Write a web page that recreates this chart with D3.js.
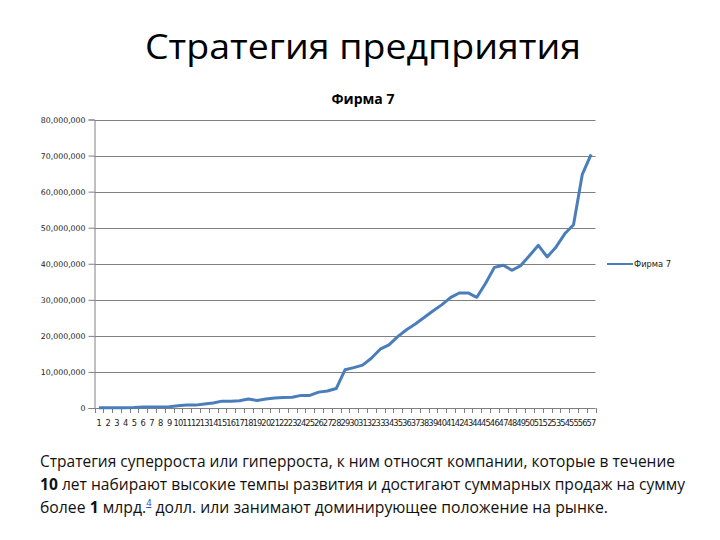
<!DOCTYPE html>
<html>
<head>
<meta charset="utf-8">
<script src="https://cdn.jsdelivr.net/npm/d3@7"></script>
<style>
  body { margin: 0; background: #fff; }
  svg { display: block; }
</style>
</head>
<body>
<div id="chart-area"></div>
<script>
// DATA

let categories = d3.range(1, 58).map(String);

// Фирма 7, values
let firm7 = [
  100000, 100000, 100000, 100000, 150000, 300000, 300000, 300000, 350000, 600000,
  800000, 800000, 1100000, 1400000, 1900000, 1900000, 2000000, 2500000, 2100000, 2500000,
  2800000, 2900000, 3000000, 3500000, 3500000, 4400000, 4700000, 5400000, 10600000, 11200000,
  11900000, 13800000, 16300000, 17500000, 19800000, 21700000, 23300000, 25100000, 26900000, 28600000,
  30600000, 31900000, 31900000, 30700000, 34600000, 39000000, 39600000, 38200000, 39500000, 42300000,
  45100000, 41900000, 44600000, 48300000, 50800000, 64800000, 70300000
];

let yTicks = [0, 10000000, 20000000, 30000000, 40000000, 50000000, 60000000, 70000000, 80000000];

let seriesName = "Фирма 7";
let pageTitle = "Стратегия предприятия";

// CHART AREA

let width = 720, height = 540;
let plot = { left: 94.5, right: 595.5, top: 119.5, bottom: 408 };

let svg = d3
  .select("#chart-area")
  .append("svg")
  .attr("width", width)
  .attr("height", height);

svg.append("rect").attr("width", width).attr("height", height).attr("fill", "#fff");

// SCALES

let x = d3.scaleBand().domain(categories).range([plot.left, plot.right]);
let y = d3.scaleLinear().domain([0, 80000000]).range([plot.bottom, plot.top]);

// GRIDLINES

svg.append("g")
  .selectAll("line")
  .data(yTicks.slice(1))
  .enter()
  .append("line")
  .attr("x1", plot.left)
  .attr("x2", plot.right)
  .attr("y1", d => Math.round(y(d)) + 0.5)
  .attr("y2", d => Math.round(y(d)) + 0.5)
  .attr("stroke", "#808080")
  .attr("stroke-width", 1);

// AXIS

let yAxis = d3.axisLeft(y)
  .tickValues(yTicks)
  .tickSize(6)
  .tickPadding(3)
  .tickFormat(d => d === 0 ? "0" : d3.format(",")(d));

let yAxisGroup = svg.append("g")
  .attr("transform", "translate(" + plot.left + ",0)")
  .call(yAxis);

yAxisGroup.select(".domain").attr("stroke", "#808080");
yAxisGroup.selectAll(".tick line").attr("stroke", "#808080");
yAxisGroup.selectAll(".tick text")
  .attr("font-family", "Verdana, 'DejaVu Sans', sans-serif")
  .attr("font-size", 7.8)
  .attr("fill", "#222");

// x axis: ticks between categories like Excel
let xAxisGroup = svg.append("g").attr("class", "x-axis");

xAxisGroup.append("line")
  .attr("x1", plot.left)
  .attr("x2", plot.right)
  .attr("y1", plot.bottom + 0.5)
  .attr("y2", plot.bottom + 0.5)
  .attr("stroke", "#808080");

let boundaries = categories.map(c => x(c)).concat([plot.right]);
xAxisGroup.selectAll("line.tick")
  .data(boundaries)
  .enter()
  .append("line")
  .attr("class", "tick")
  .attr("x1", d => Math.round(d) + 0.5)
  .attr("x2", d => Math.round(d) + 0.5)
  .attr("y1", plot.bottom)
  .attr("y2", plot.bottom + 5)
  .attr("stroke", "#808080");

xAxisGroup.selectAll("text")
  .data(categories)
  .enter()
  .append("text")
  .attr("x", d => x(d) + x.bandwidth() / 2)
  .attr("y", 426)
  .attr("text-anchor", "middle")
  .attr("font-family", "Verdana, 'DejaVu Sans', sans-serif")
  .attr("font-size", 8.3)
  .attr("letter-spacing", -0.7)
  .attr("fill", "#222")
  .text(d => d);

// LINE

let line = d3.line()
  .x((d, i) => x(categories[i]) + x.bandwidth() / 2)
  .y(d => y(d));

svg.append("path")
  .datum(firm7)
  .attr("d", line)
  .attr("fill", "none")
  .attr("stroke", "#4a7ebb")
  .attr("stroke-width", 3)
  .attr("stroke-linejoin", "round");

// LEGEND

let legend = svg.append("g").attr("transform", "translate(607,264)");
legend.append("line")
  .attr("x1", 0).attr("x2", 26)
  .attr("stroke", "#4a7ebb")
  .attr("stroke-width", 2);
legend.append("text")
  .attr("x", 27)
  .attr("y", 3)
  .attr("font-family", "Verdana, 'DejaVu Sans', sans-serif")
  .attr("font-size", 8.3)
  .attr("fill", "#222")
  .text(seriesName);

// TITLES

svg.append("text")
  .attr("x", 363)
  .attr("y", 59)
  .attr("text-anchor", "middle")
  .attr("font-family", "'Open Sans', 'Noto Sans', sans-serif")
  .attr("font-size", 35)
  .attr("textLength", 436)
  .attr("lengthAdjust", "spacingAndGlyphs")
  .attr("fill", "#000")
  .text(pageTitle);

svg.append("text")
  .attr("x", 363)
  .attr("y", 104)
  .attr("text-anchor", "middle")
  .attr("font-family", "'Open Sans', 'Noto Sans', sans-serif")
  .attr("font-weight", "bold")
  .attr("font-size", 14)
  .attr("fill", "#000")
  .text(seriesName);

// BOTTOM TEXT

let para = svg.append("g")
  .attr("font-family", "'Open Sans', 'Noto Sans', sans-serif")
  .attr("font-size", 15.5)
  .attr("fill", "#111");

let l1 = para.append("text").attr("x", 40).attr("y", 467)
  .attr("textLength", 635).attr("lengthAdjust", "spacingAndGlyphs");
l1.text("Стратегия суперроста или гиперроста, к ним относят компании, которые в течение");

let l2 = para.append("text").attr("x", 40).attr("y", 490)
  .attr("textLength", 645).attr("lengthAdjust", "spacingAndGlyphs");
l2.append("tspan").attr("font-weight", "bold").text("10");
l2.append("tspan").text(" лет набирают высокие темпы развития и достигают суммарных продаж на сумму");

let l3 = para.append("text").attr("x", 40).attr("y", 513)
  .attr("textLength", 568).attr("lengthAdjust", "spacingAndGlyphs");
l3.append("tspan").text("более ");
l3.append("tspan").attr("font-weight", "bold").text("1");
l3.append("tspan").text(" млрд.");
l3.append("tspan")
  .attr("font-size", 9)
  .attr("dy", -7)
  .attr("fill", "#1f3fbf")
  .attr("text-decoration", "underline")
  .text("4");
l3.append("tspan")
  .attr("dy", 7)
  .text(" долл. или занимают доминирующее положение на рынке.");
</script>
</body>
</html>
